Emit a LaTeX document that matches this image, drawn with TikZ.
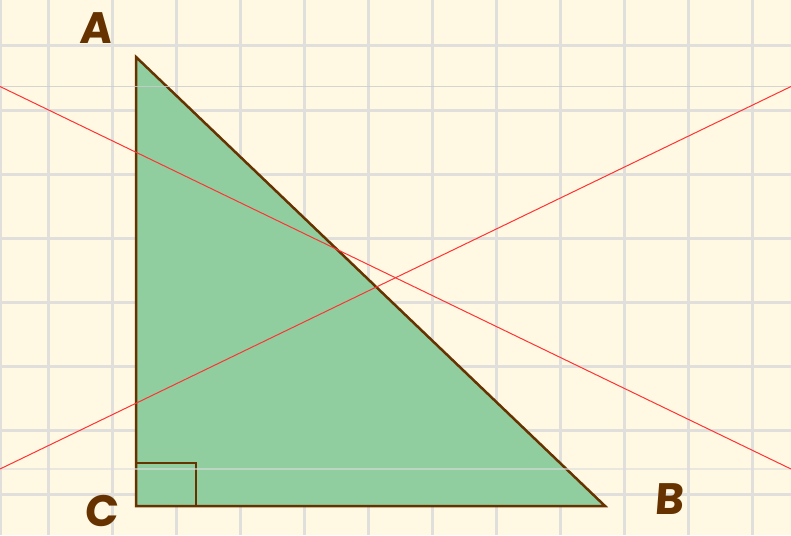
\documentclass[tikz,border=0pt]{standalone}
\usepackage{fontspec}
\newfontfamily\lblfont[FakeSlant=0.08]{Poppins}
\definecolor{bgc}{HTML}{FFF8E2}
\definecolor{gridc}{HTML}{E1DFDC}
\definecolor{thinc}{HTML}{CCCCCC}
\definecolor{thinw}{HTML}{DCDCDC}
\definecolor{fillc}{HTML}{90CEA0}
\definecolor{brownc}{HTML}{663300}
\definecolor{redc}{HTML}{FF3333}
\begin{document}
\begin{tikzpicture}[x=1pt,y=-1pt,
  gridline/.style={draw=gridc,line width=3pt},
  thinline/.style={draw=thinc,line width=1pt,opacity=0.8},
  redline/.style={draw=redc,line width=1pt},
  tri/.style={fill=fillc,draw=brownc,line width=2.5pt,line join=miter},
  lbl/.style={text=brownc,font=\lblfont\bfseries\fontsize{44}{44}\selectfont,inner sep=0pt,text depth=0pt}]
\fill[bgc] (0,0) rectangle (791,535);
\useasboundingbox (0,0) rectangle (791,535);
\foreach \x in {48,112,...,752} \draw[gridline] (\x,0) -- (\x,535);
\draw[gridline] (0.5,0) -- (0.5,535);
\foreach \y in {46,110,...,494} \draw[gridline] (0,\y) -- (791,\y);
\coordinate (A) at (136,57);
\coordinate (C) at (136,506);
\coordinate (B) at (605,506);
\coordinate (S1) at (196,506);
\coordinate (S2) at (196,463);
\coordinate (S3) at (136,463);
\filldraw[tri] (A) -- (B) -- (C) -- cycle;
\draw[brownc,line width=2pt] (S3) -- (S2) -- (S1);
\coordinate (L1) at (0,86.5);
\coordinate (R1) at (791,86.5);
\coordinate (L2) at (0,469);
\coordinate (R2) at (791,469);
\draw[thinline] (L1) -- (R1);
\draw[draw=thinw,line width=2pt,opacity=0.6] (L2) -- (R2);
\draw[redline] (L1) -- (R2);
\draw[redline] (L2) -- (R1);
\node[lbl] (la) at (96,28) {A};
\node[lbl] (lb) at (669,499) {B};
\node[lbl] (lc) at (101,511) {C};
\end{tikzpicture}
\end{document}
